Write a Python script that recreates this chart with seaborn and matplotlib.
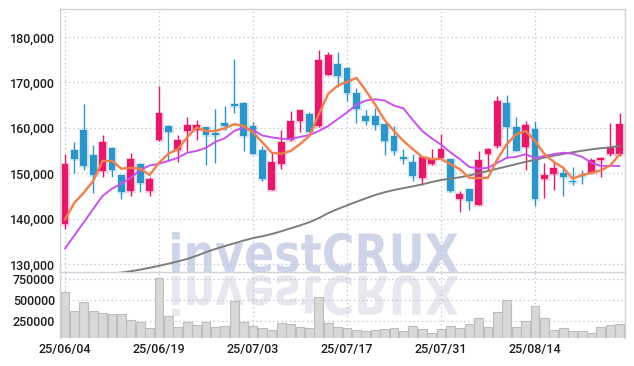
import numpy as np
import pandas as pd
import matplotlib
matplotlib.use("Agg")
import matplotlib.pyplot as plt
import matplotlib.transforms as mtransforms
import matplotlib.patheffects as pe
from matplotlib.textpath import TextPath
from matplotlib.patches import PathPatch
from matplotlib.font_manager import FontProperties
from matplotlib.ticker import FixedLocator, FuncFormatter
import seaborn as sns

# ---------------- data ----------------
dates = ["25/06/04", "25/06/05", "25/06/09", "25/06/10", "25/06/11", "25/06/12", "25/06/13", "25/06/16", "25/06/17", "25/06/18",
         "25/06/19", "25/06/20", "25/06/23", "25/06/24", "25/06/25", "25/06/26", "25/06/27", "25/06/30", "25/07/01", "25/07/02",
         "25/07/03", "25/07/04", "25/07/07", "25/07/08", "25/07/09", "25/07/10", "25/07/11", "25/07/14", "25/07/15", "25/07/16",
         "25/07/17", "25/07/18", "25/07/21", "25/07/22", "25/07/23", "25/07/24", "25/07/25", "25/07/28", "25/07/29", "25/07/30",
         "25/07/31", "25/08/01", "25/08/04", "25/08/05", "25/08/06", "25/08/07", "25/08/08", "25/08/11", "25/08/12", "25/08/13",
         "25/08/14", "25/08/18", "25/08/19", "25/08/20", "25/08/21", "25/08/22", "25/08/25", "25/08/26", "25/08/27", "25/08/28"]

opens = [138700, 155100, 159600, 154000, 150500, 155600, 149600, 146100, 152000, 146100,
         157300, 160400, 155100, 159200, 159500, 160100, 158700, 161100, 165100, 165500,
         160300, 155100, 146200, 152000, 157300, 161400, 163000, 160300, 171700, 174100,
         173200, 167700, 162600, 162600, 160800, 158200, 153400, 152500, 149000, 152000,
         153400, 153100, 144400, 146500, 143100, 154300, 156000, 165500, 160200, 155800,
         159700, 148800, 149900, 150000, 148300, 149400, 150100, 152800, 154200, 154300]
closes = [152000, 153200, 151600, 149600, 156900, 150700, 145800, 153200, 147900, 148700,
          163200, 159000, 157300, 160600, 160600, 158500, 158500, 160500, 164900, 158300,
          154300, 148800, 152500, 156900, 161600, 163900, 159000, 175000, 176100, 171500,
          167600, 164100, 161400, 160600, 157000, 154800, 153200, 149400, 153600, 153100,
          155400, 146100, 145500, 143800, 152900, 155400, 166000, 160200, 154900, 160600,
          144400, 149700, 151100, 149200, 148100, 149300, 152900, 153400, 155500, 160800]
highs = [154200, 156800, 165200, 156200, 158400, 155800, 149700, 154500, 152200, 149200,
         169300, 160600, 158400, 162300, 161800, 160200, 164100, 164800, 175200, 165600,
         161300, 155900, 154500, 159500, 163800, 164000, 163400, 177200, 176800, 176700,
         173300, 168800, 163900, 164400, 160800, 160400, 155300, 154300, 153800, 155300,
         158600, 153200, 146100, 146500, 154900, 155600, 167100, 167200, 162400, 161500,
         161400, 152300, 152500, 151400, 151400, 150800, 153400, 153600, 161000, 163200]
lows = [137600, 150100, 150600, 145700, 149200, 149200, 144400, 144900, 145900, 145000,
        157100, 152800, 152500, 154900, 157300, 151700, 152300, 159600, 163200, 154900,
        154300, 148300, 146200, 151000, 157100, 159000, 159000, 160200, 171700, 169100,
        165800, 161100, 160700, 159600, 154000, 154000, 152000, 148300, 147400, 151900,
        153400, 145900, 141400, 141800, 143000, 150500, 155500, 153400, 154900, 150800,
        142700, 144600, 146400, 144900, 147500, 147700, 150100, 149200, 153800, 153800]

ma_short = [139800, 143500, 145700, 148300, 152700, 152700, 151000, 151200, 151000, 149600,
            152300, 154300, 155300, 157900, 160100, 159300, 159300, 159900, 160800, 160400,
            159000, 156800, 154500, 154300, 154900, 156400, 158200, 163000, 167500, 169300,
            170100, 171000, 168200, 165100, 161700, 159300, 157100, 155300, 153600, 153100,
            153100, 152000, 150900, 149000, 148900, 149000, 153100, 156400, 158600, 159300,
            157100, 154200, 152500, 151200, 148800, 149600, 150100, 150600, 151700, 154200]
ma_mid = [133400, 136300, 139200, 142100, 145000, 146600, 147700, 149000, 150700, 151700,
          152100, 152700, 153400, 154500, 154900, 155600, 156900, 157700, 159300, 160100,
          159500, 158300, 157900, 157600, 157500, 158000, 158400, 159300, 160400, 161900,
          163400, 165100, 166000, 166300, 166000, 164900, 164300, 161700, 159300, 157700,
          156300, 154600, 153100, 151400, 151000, 151200, 152300, 153400, 153600, 154200,
          153300, 153800, 154200, 154500, 154300, 153600, 152300, 151600, 151600, 151600]
ma_long = [126600, 126900, 127200, 127450, 127700, 127900, 128100, 128400, 128750, 129150,
           129600, 130050, 130550, 131100, 131800, 132600, 133300, 133950, 134550, 135150,
           135700, 136100, 136600, 137200, 137850, 138500, 139200, 140100, 141200, 142100,
           142900, 143700, 144450, 145200, 145800, 146300, 146700, 147100, 147550, 148050,
           148500, 148800, 149100, 149500, 150000, 150500, 151000, 151500, 152000, 152500,
           152950, 153450, 153850, 154250, 154600, 154950, 155250, 155500, 155700, 156000]

volumes = [591700, 369000, 472600, 369000, 353500, 341600, 341600, 261900, 246000, 175000,
           758300, 309500, 186900, 246000, 202400, 246000, 186900, 198400, 488100, 246000,
           198400, 175000, 151200, 234500, 214300, 186900, 175000, 532100, 234500, 186900,
           175000, 151200, 139300, 151200, 163100, 175000, 139300, 198400, 163100, 115500,
           163100, 198400, 175000, 222600, 294000, 186900, 365000, 496400, 186900, 258300,
           424800, 294000, 151200, 175000, 139300, 139300, 115500, 186900, 210500, 222600]

price_ticks = [130000, 140000, 150000, 160000, 170000, 180000]
volume_ticks = [250000, 500000, 750000]
watermark = "investCRUX"

# ---------------- styling ----------------
RED = "#e5196b"
BLUE = "#2d95c8"
ORANGE = "#ef7f4c"
PURPLE = "#c952ec"
GRAY = "#7d7d7d"
GRID = "#c4c8dc"
SPINE = "#d2d2d6"
TXT = "#1e1e1e"

sns.set_theme(style="white")
plt.rcParams["font.family"] = ["Roboto", "DejaVu Sans"]

W, H = 634, 366
fig = plt.figure(figsize=(W / 100, H / 100), dpi=100, facecolor="white")
ax = fig.add_axes([60 / W, 1 - 272 / H, 565 / W, 263 / H])
axv = fig.add_axes([60 / W, 1 - 338 / H, 565 / W, 66 / H], sharex=ax)
for a in (ax, axv):
    a.set_facecolor("none")

# ---------------- watermark (figure level, behind axes) ----------------
fp = FontProperties(family="DejaVu Sans", weight="bold")
tp = TextPath((0, 0), watermark, size=1, prop=fp)
cap = TextPath((0, 0), "C", size=1, prop=fp).get_extents().height
bb = tp.get_extents()
sx = (458 - 172) / bb.width
sy = 40 / cap
base = H - 272
t_main = mtransforms.Affine2D().translate(-bb.x0, 0).scale(sx, sy).translate(172, base)
t_refl = mtransforms.Affine2D().translate(-bb.x0, 0).scale(sx, -sy).translate(172, base - 4)
fig.patches.append(PathPatch(tp, transform=t_main, facecolor="#ced5e9", edgecolor="none", zorder=-1))
fig.patches.append(PathPatch(tp, transform=t_refl, facecolor="#e7e7f0", edgecolor="none", zorder=-1))

# ---------------- price panel ----------------
n = len(closes)
x = np.arange(n)
o = np.array(opens)
c = np.array(closes)
colors = np.where(c >= o, RED, BLUE)
ax.vlines(x, lows, highs, colors=colors, lw=1.0, zorder=3)
body_bottom = np.minimum(o, c)
body_h = np.maximum(np.abs(c - o), 260)
bars = ax.bar(x, body_h, bottom=body_bottom, width=0.72, color=colors, linewidth=0, zorder=4)
for b, col in zip(bars, colors):
    b.set_path_effects([pe.withStroke(linewidth=2.2, foreground=col, alpha=0.18), pe.Normal()])

df = pd.DataFrame({"i": x, "short": ma_short, "mid": ma_mid, "long": ma_long})
sns.lineplot(data=df, x="i", y="long", ax=ax, color=GRAY, lw=1.4, zorder=5)
sns.lineplot(data=df, x="i", y="mid", ax=ax, color=PURPLE, lw=1.4, zorder=5)
sns.lineplot(data=df, x="i", y="short", ax=ax, color=ORANGE, lw=1.3, zorder=6,
             path_effects=[pe.withStroke(linewidth=2.8, foreground=ORANGE, alpha=0.15), pe.Normal()])

ax.set_ylim(128230, 186180)
ax.set_xlim(-0.53, 59.57)
ax.yaxis.set_major_locator(FixedLocator(price_ticks))
ax.yaxis.set_major_formatter(FuncFormatter(lambda v, p: f"{v:,.0f}"))
ax.set_xlabel("")
ax.set_ylabel("")

# ---------------- volume panel ----------------
dfv = pd.DataFrame({"i": x, "vol": volumes})
sns.barplot(data=dfv, x="i", y="vol", ax=axv, native_scale=True, color="#d8d8d8",
            saturation=1, edgecolor="#bdbdbd", linewidth=0.8, width=0.95, zorder=2)
axv.set_ylim(52000, 833000)
axv.yaxis.set_major_locator(FixedLocator(volume_ticks))
axv.yaxis.set_major_formatter(FuncFormatter(lambda v, p: f"{int(v)}"))
axv.set_xlim(-0.53, 59.57)
axv.xaxis.set_major_locator(FixedLocator(list(x[::10])))
axv.set_xticklabels(dates[::10])
axv.set_xlabel("")
axv.set_ylabel("")

# ---------------- common look ----------------
for a in (ax, axv):
    a.grid(True, which="major", color=GRID, linestyle=(0, (1.2, 2.2)), lw=0.9)
    a.set_axisbelow(True)
    a.tick_params(axis="both", length=0, labelsize=9, labelcolor=TXT, pad=3.6)
    for s in a.spines.values():
        s.set_color(SPINE)
        s.set_linewidth(1.0)
    for lab in a.get_xticklabels() + a.get_yticklabels():
        lab.set_fontweight("medium")
ax.xaxis.set_major_locator(FixedLocator(list(x[::10])))
ax.tick_params(labelbottom=False)
axv.spines["bottom"].set_visible(False)
axv.spines["top"].set_visible(False)

fig.savefig("out.png", dpi=100, facecolor="white")
